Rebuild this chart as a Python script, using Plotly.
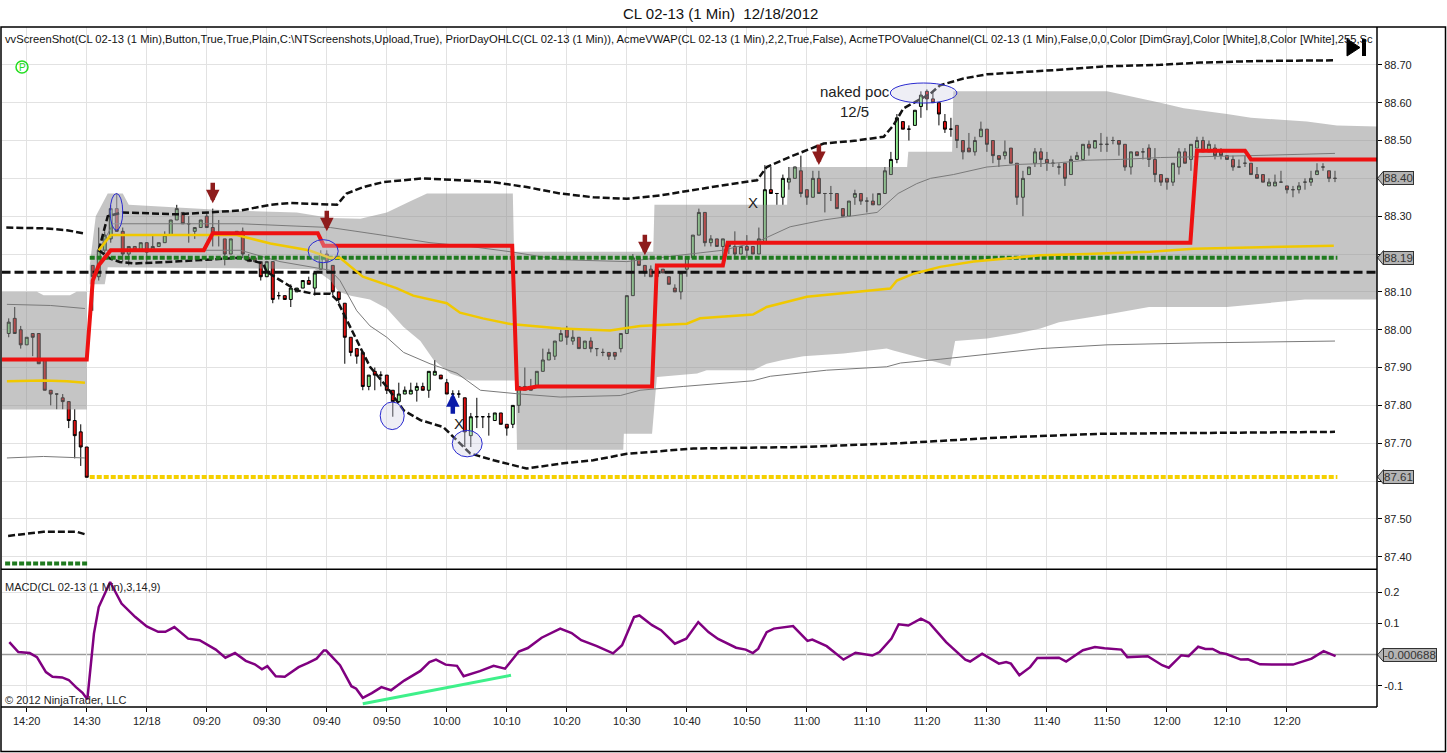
import plotly.graph_objects as go
from plotly.subplots import make_subplots

# bar index: 0 = 14:20 of the prior session, 20 = first labelled bar of 12/18
bar_x = list(range(-3, 219))
opens = [
    87.99, 88.03, 88.00, 87.96, 87.99, 87.99, 87.92, 87.84, 87.83, 87.82,
    87.81, 87.76, 87.73, 87.69, 88.17, 88.14, 88.21, 88.24, 88.32, 88.26,
    88.20, 88.22, 88.21, 88.23, 88.21, 88.22, 88.23, 88.25, 88.29, 88.31,
    88.28, 88.26, 88.27, 88.30, 88.27, 88.255, 88.24, 88.20, 88.25, 88.26,
    88.19, 88.19, 88.18, 88.14, 88.18, 88.09, 88.09, 88.08, 88.10, 88.11,
    88.13, 88.11, 88.16, 88.20, 88.17, 88.10, 88.07, 87.98, 87.95, 87.94,
    87.85, 87.89, 87.88, 87.88, 87.84, 87.81, 87.83, 87.83, 87.84, 87.85,
    87.84, 87.88, 87.88, 87.86, 87.83, 87.83, 87.82, 87.72, 87.77, 87.77,
    87.77, 87.76, 87.78, 87.75, 87.75, 87.80, 87.85, 87.85, 87.85, 87.89,
    87.92, 87.93, 87.97, 88.00, 87.97, 87.98, 87.95, 87.97, 87.95, 87.94,
    87.94, 87.94, 87.95, 87.99, 88.09, 88.19, 88.17, 88.16, 88.14, 88.16,
    88.14, 88.11, 88.10, 88.16, 88.19, 88.25, 88.31, 88.23, 88.24, 88.22,
    88.23, 88.22, 88.20, 88.22, 88.22, 88.20, 88.23, 88.37, 88.36, 88.35,
    88.39, 88.40, 88.42, 88.37, 88.35, 88.40, 88.36, 88.36, 88.36, 88.32,
    88.30, 88.35, 88.36, 88.34, 88.34, 88.33, 88.36, 88.41, 88.45, 88.55,
    88.53, 88.54, 88.59, 88.63, 88.61, 88.60, 88.55, 88.53, 88.54, 88.50,
    88.48, 88.47, 88.51, 88.53, 88.50, 88.46, 88.46, 88.48, 88.44, 88.35,
    88.41, 88.44, 88.47, 88.45, 88.44, 88.43, 88.44, 88.41, 88.45, 88.45,
    88.49, 88.48, 88.49, 88.49, 88.50, 88.50, 88.49, 88.43, 88.47, 88.47,
    88.48, 88.45, 88.41, 88.40, 88.39, 88.43, 88.47, 88.45, 88.48, 88.50,
    88.47, 88.48, 88.47, 88.46, 88.45, 88.43, 88.44, 88.44, 88.41, 88.41,
    88.38, 88.38, 88.39, 88.38, 88.37, 88.37, 88.39, 88.39, 88.41, 88.43,
    88.42, 88.40]
highs = [
    88.03, 88.06, 88.01, 87.98, 87.99, 87.99, 87.92, 87.84, 87.83, 87.83,
    87.81, 87.79, 87.75, 87.69, 88.17, 88.27, 88.26, 88.33, 88.36, 88.27,
    88.22, 88.22, 88.23, 88.23, 88.25, 88.23, 88.26, 88.29, 88.33, 88.31,
    88.30, 88.27, 88.29, 88.31, 88.32, 88.29, 88.24, 88.24, 88.26, 88.27,
    88.20, 88.19, 88.18, 88.18, 88.18, 88.10, 88.09, 88.12, 88.11, 88.13,
    88.14, 88.15, 88.21, 88.21, 88.17, 88.10, 88.07, 87.98, 87.95, 87.94,
    87.88, 87.90, 87.89, 87.88, 87.84, 87.86, 87.85, 87.86, 87.86, 87.86,
    87.89, 87.92, 87.88, 87.87, 87.84, 87.84, 87.82, 87.78, 87.82, 87.77,
    87.78, 87.78, 87.78, 87.75, 87.80, 87.85, 87.90, 87.87, 87.89, 87.95,
    87.95, 87.97, 88.00, 88.01, 88.00, 87.98, 87.97, 87.98, 87.95, 87.95,
    87.94, 87.94, 87.99, 88.09, 88.20, 88.19, 88.17, 88.17, 88.17, 88.16,
    88.14, 88.12, 88.15, 88.19, 88.25, 88.32, 88.31, 88.25, 88.24, 88.24,
    88.23, 88.26, 88.22, 88.25, 88.22, 88.27, 88.435, 88.43, 88.36, 88.41,
    88.43, 88.43, 88.46, 88.37, 88.42, 88.42, 88.36, 88.38, 88.36, 88.32,
    88.34, 88.37, 88.36, 88.35, 88.36, 88.36, 88.43, 88.47, 88.57, 88.55,
    88.54, 88.58, 88.63, 88.635, 88.63, 88.60, 88.57, 88.56, 88.54, 88.50,
    88.52, 88.51, 88.55, 88.53, 88.50, 88.46, 88.50, 88.48, 88.44, 88.42,
    88.43, 88.48, 88.48, 88.47, 88.45, 88.44, 88.44, 88.46, 88.47, 88.49,
    88.50, 88.50, 88.52, 88.51, 88.51, 88.50, 88.49, 88.47, 88.47, 88.48,
    88.49, 88.48, 88.41, 88.40, 88.44, 88.48, 88.48, 88.49, 88.51, 88.51,
    88.50, 88.49, 88.48, 88.46, 88.46, 88.45, 88.46, 88.44, 88.43, 88.41,
    88.40, 88.41, 88.42, 88.38, 88.38, 88.39, 88.40, 88.42, 88.44, 88.44,
    88.42, 88.42]
lows = [
    87.98, 87.99, 87.95, 87.96, 87.93, 87.91, 87.84, 87.80, 87.79, 87.79,
    87.74, 87.66, 87.64, 87.61, 88.05, 88.13, 88.20, 88.23, 88.26, 88.18,
    88.17, 88.21, 88.21, 88.175, 88.21, 88.22, 88.23, 88.25, 88.29, 88.28,
    88.23, 88.24, 88.27, 88.27, 88.22, 88.22, 88.17, 88.20, 88.25, 88.19,
    88.18, 88.18, 88.13, 88.14, 88.07, 88.08, 88.08, 88.06, 88.10, 88.11,
    88.12, 88.09, 88.16, 88.15, 88.09, 88.07, 87.91, 87.93, 87.91, 87.84,
    87.84, 87.84, 87.85, 87.83, 87.77, 87.81, 87.83, 87.83, 87.81, 87.84,
    87.82, 87.88, 87.87, 87.83, 87.78, 87.82, 87.69, 87.69, 87.74, 87.74,
    87.72, 87.76, 87.75, 87.72, 87.74, 87.78, 87.84, 87.84, 87.85, 87.89,
    87.92, 87.92, 87.97, 87.96, 87.96, 87.95, 87.95, 87.94, 87.93, 87.93,
    87.92, 87.92, 87.94, 87.99, 88.09, 88.17, 88.14, 88.14, 88.14, 88.15,
    88.12, 88.10, 88.08, 88.14, 88.19, 88.25, 88.22, 88.22, 88.22, 88.19,
    88.20, 88.19, 88.20, 88.19, 88.20, 88.20, 88.23, 88.36, 88.33, 88.33,
    88.37, 88.40, 88.35, 88.33, 88.35, 88.36, 88.31, 88.34, 88.32, 88.30,
    88.30, 88.33, 88.33, 88.31, 88.33, 88.33, 88.36, 88.41, 88.44, 88.53,
    88.50, 88.54, 88.56, 88.58, 88.60, 88.54, 88.52, 88.51, 88.48, 88.45,
    88.47, 88.46, 88.51, 88.47, 88.44, 88.43, 88.45, 88.44, 88.33, 88.30,
    88.41, 88.43, 88.43, 88.42, 88.43, 88.41, 88.38, 88.41, 88.45, 88.45,
    88.46, 88.48, 88.47, 88.47, 88.49, 88.46, 88.42, 88.41, 88.46, 88.45,
    88.43, 88.39, 88.38, 88.37, 88.38, 88.41, 88.44, 88.42, 88.48, 88.47,
    88.47, 88.45, 88.45, 88.45, 88.42, 88.43, 88.43, 88.41, 88.40, 88.39,
    88.38, 88.38, 88.39, 88.36, 88.35, 88.36, 88.37, 88.38, 88.41, 88.42,
    88.39, 88.39]
closes = [
    88.02, 87.99, 87.96, 87.98, 87.98, 87.91, 87.84, 87.83, 87.83, 87.81,
    87.76, 87.72, 87.69, 87.61, 88.14, 88.21, 88.25, 88.32, 88.26, 88.20,
    88.22, 88.21, 88.23, 88.205, 88.22, 88.23, 88.25, 88.29, 88.32, 88.28,
    88.28, 88.27, 88.29, 88.27, 88.255, 88.255, 88.20, 88.24, 88.26, 88.20,
    88.18, 88.18, 88.14, 88.18, 88.08, 88.09, 88.08, 88.11, 88.11, 88.13,
    88.12, 88.15, 88.20, 88.18, 88.10, 88.08, 87.98, 87.94, 87.93, 87.85,
    87.88, 87.88, 87.88, 87.84, 87.81, 87.83, 87.84, 87.84, 87.85, 87.84,
    87.89, 87.89, 87.87, 87.83, 87.83, 87.83, 87.73, 87.77, 87.77, 87.77,
    87.77, 87.78, 87.75, 87.74, 87.80, 87.85, 87.84, 87.84, 87.89, 87.92,
    87.94, 87.97, 87.99, 87.98, 87.98, 87.95, 87.97, 87.95, 87.95, 87.94,
    87.93, 87.93, 87.99, 88.09, 88.19, 88.17, 88.15, 88.14, 88.16, 88.15,
    88.12, 88.10, 88.15, 88.19, 88.25, 88.31, 88.23, 88.24, 88.22, 88.24,
    88.22, 88.20, 88.22, 88.21, 88.20, 88.24, 88.37, 88.36, 88.36, 88.40,
    88.40, 88.43, 88.36, 88.35, 88.40, 88.36, 88.36, 88.36, 88.32, 88.30,
    88.34, 88.36, 88.34, 88.34, 88.33, 88.36, 88.42, 88.45, 88.56, 88.53,
    88.53, 88.58, 88.62, 88.61, 88.60, 88.57, 88.53, 88.53, 88.50, 88.47,
    88.47, 88.50, 88.53, 88.49, 88.46, 88.45, 88.47, 88.44, 88.35, 88.40,
    88.43, 88.47, 88.45, 88.44, 88.44, 88.43, 88.40, 88.45, 88.46, 88.49,
    88.48, 88.50, 88.49, 88.49, 88.50, 88.49, 88.43, 88.47, 88.46, 88.47,
    88.45, 88.41, 88.39, 88.39, 88.44, 88.47, 88.44, 88.49, 88.50, 88.47,
    88.49, 88.46, 88.46, 88.45, 88.43, 88.43, 88.44, 88.41, 88.40, 88.39,
    88.39, 88.39, 88.39, 88.37, 88.37, 88.38, 88.39, 88.40, 88.42, 88.43,
    88.40, 88.40]

tick_vals = list(range(0, 211, 10))
tick_text = ['14:20', '14:30', '12/18', '09:20', '09:30', '09:40', '09:50', '10:00',
             '10:10', '10:20', '10:30', '10:40', '10:50', '11:00', '11:10', '11:20',
             '11:30', '11:40', '11:50', '12:00', '12:10', '12:20']

# prior day OHLC levels
prior_low = 87.382
prior_close = 87.611
level_green = 88.19
level_black = 88.152
last_price = 88.40
last_macd = -0.000688

# TPO value channel (gray band)
prev_band_x = [-4.2, 1.7, 2.8, 7.2, 8.3, 10, 10, -4.2]
prev_band_y = [88.10, 88.10, 88.091, 88.091, 88.10, 88.10, 87.789, 87.789]
band_up_x = [10.5, 11.5, 13.5, 16, 17, 33.9, 45, 50.6, 55.6, 60, 64, 66.7, 81, 81.2, 104.4,
             104.6, 126.7, 126.9, 146.7, 146.9, 154.2, 154.4, 180, 188.9, 192.8, 200,
             204, 213.3, 218.3, 225]
band_up_y = [88.17, 88.30, 88.36, 88.36, 88.33, 88.315, 88.31, 88.295, 88.293, 88.31,
             88.34, 88.36, 88.36, 88.206, 88.206, 88.33, 88.33, 88.43, 88.43, 88.47,
             88.47, 88.63, 88.63, 88.60, 88.585, 88.57, 88.56, 88.55, 88.54, 88.537]
band_lo_x = [10.5, 13, 13.5, 48, 50.6, 52, 54, 57.2, 60, 62.8, 65.6, 67.8, 70.6, 73.9, 81.5,
             81.7, 99.4, 99.5, 104.2, 105, 111.7, 113.3, 121.1, 123.3, 126, 129.4, 136.1,
             143.3, 144.4, 149.4, 153.9, 154.7, 160, 165, 168.9, 172, 180, 187, 200, 213,
             225]
band_lo_y = [88.12, 88.12, 88.165, 88.16, 88.13, 88.10, 88.09, 88.08, 88.056, 88.007,
             87.97, 87.92, 87.884, 87.866, 87.866, 87.683, 87.683, 87.725, 87.725, 87.875,
             87.884, 87.893, 87.893, 87.91, 87.92, 87.93, 87.937, 87.95, 87.945, 87.924,
             87.904, 87.97, 87.977, 87.99, 88.003, 88.02, 88.04, 88.06, 88.06, 88.08,
             88.08]

# VWAP and its bands, prior session
prev_vwap_x = [-3.3, 2.8, 6.7, 9.7]
prev_vwap_y = [87.864, 87.866, 87.864, 87.86]
prev_up1_x = [-3.3, 4, 9.7]
prev_up1_y = [88.067, 88.064, 88.056]
prev_lo1_x = [-3.3, 2.8, 9.7]
prev_lo1_y = [87.661, 87.665, 87.661]
prev_up2_x = [-3.4, 2.8, 6.7, 9.7]
prev_up2_y = [88.27, 88.268, 88.263, 88.254]
prev_lo2_x = [-3.1, 2.8, 8.3, 9.8]
prev_lo2_y = [87.455, 87.466, 87.466, 87.459]

# VWAP and its bands, 12/18
vwap_x = [12, 14, 20, 30, 35, 40.6, 47, 50.5, 52.2, 56, 61.6, 64.4, 70, 72.2, 76, 80.6, 89,
          97.2, 102.2, 110, 112.2, 121, 123.3, 130, 140, 143.9, 145, 147.8, 152.2, 157.8,
          163.3, 168.9, 176.7, 187.2, 194.4, 206.7, 217.8]
vwap_y = [88.21, 88.25, 88.25, 88.25, 88.25, 88.228, 88.21, 88.19, 88.19, 88.14, 88.11,
          88.09, 88.07, 88.045, 88.03, 88.015, 88.003, 87.998, 88.01, 88.016, 88.03, 88.04,
          88.06, 88.087, 88.103, 88.109, 88.13, 88.148, 88.166, 88.18, 88.188, 88.197,
          88.20, 88.206, 88.214, 88.219, 88.222]
up1_x = [12, 14.4, 35.6, 50.6, 59.2, 67.2, 73.9, 80.6, 88.9, 100, 110.5, 116, 121.7, 127.2,
         132.8, 138.3, 141.7, 145.2, 148.3, 150.6, 154.4, 160, 165.5, 171.1, 176.7, 182.2,
         188.9, 203.9, 218]
up1_y = [88.21, 88.28, 88.28, 88.27, 88.25, 88.23, 88.22, 88.206, 88.185, 88.18, 88.20,
         88.21, 88.232, 88.272, 88.29, 88.303, 88.31, 88.36, 88.386, 88.40, 88.41, 88.43,
         88.437, 88.44, 88.448, 88.45, 88.455, 88.46, 88.466]
lo1_x = [12, 15.5, 35.6, 42.2, 50.6, 52.2, 55, 57.2, 60, 62.8, 67.2, 71.7, 73.9, 75.6, 82.2,
         88.9, 98.9, 102.2, 109.4, 121, 123.9, 133.3, 143.3, 145.6, 152.2, 160, 168.9, 180,
         195, 218]
lo1_y = [88.21, 88.21, 88.21, 88.18, 88.157, 88.13, 88.05, 88.01, 87.98, 87.94, 87.91,
         87.885, 87.86, 87.84, 87.83, 87.822, 87.826, 87.84, 87.85, 87.865, 87.877, 87.893,
         87.902, 87.912, 87.922, 87.935, 87.95, 87.96, 87.965, 87.97]
up2_x = [12, 13.5, 16, 25, 35.6, 40.6, 43.9, 51.7, 53.3, 56.1, 59.4, 66, 72.2, 77.8, 83.3,
         88.9, 94.4, 100, 105.6, 111.1, 116.1, 121.7, 123.3, 127.2, 132.8, 138.3, 142.8,
         144.4, 146.1, 150.6, 152.2, 156.1, 160, 171.1, 180, 188.9, 195.6, 205, 218]
up2_y = [88.21, 88.30, 88.31, 88.305, 88.315, 88.33, 88.335, 88.33, 88.36, 88.377, 88.39,
         88.40, 88.395, 88.39, 88.377, 88.36, 88.35, 88.346, 88.355, 88.37, 88.382, 88.395,
         88.43, 88.457, 88.492, 88.50, 88.51, 88.54, 88.585, 88.624, 88.646, 88.664,
         88.675, 88.686, 88.696, 88.70, 88.706, 88.71, 88.712]
lo2_x = [12, 13.9, 15.5, 17.8, 23.3, 28.9, 35.6, 39.4, 40, 42.2, 45, 47.8, 50.6, 51.7, 53.3,
         55, 57.2, 60, 62.8, 65.6, 69.4, 72.8, 73.9, 77.8, 83.3, 88.9, 94.4, 100, 111.1,
         129, 145.5, 162, 179, 218]
lo2_y = [88.21, 88.188, 88.179, 88.175, 88.179, 88.184, 88.19, 88.175, 88.153, 88.131,
         88.104, 88.095, 88.095, 88.078, 88.025, 87.972, 87.902, 87.849, 87.787, 87.761,
         87.743, 87.69, 87.673, 87.655, 87.633, 87.646, 87.655, 87.672, 87.686, 87.69,
         87.70, 87.715, 87.725, 87.73]

# point of control (red step line)
poc_x = [-4.2, 10, 11, 12, 14, 29.5, 31, 48.5, 49.5, 80.9, 81.7, 83, 85, 104.2, 105, 116,
         116.8, 193.9, 195, 203, 204, 225]
poc_y = [87.921, 87.921, 88.13, 88.17, 88.21, 88.21, 88.255, 88.255, 88.222, 88.222,
         87.844, 87.844, 87.85, 87.85, 88.17, 88.17, 88.23, 88.23, 88.473, 88.473, 88.45,
         88.45]

# MACD(3,14,9)
macd_x = [-2.9, -1.4, 0.5, 1.7, 3.2, 4.3, 5.9, 7.0, 8.2, 9.3, 10.1, 11.2, 12.0, 13.9, 15.8,
          18.1, 20.0, 21.9, 23.1, 24.6, 26.9, 28.8, 31.5, 33.1, 34.7, 36.5, 38.0, 39.2,
          40.1, 41.5, 43.0, 45.3, 46.8, 48.3, 49.5, 49.9, 52.2, 54.1, 54.9, 56.0, 57.5,
          59.1, 60.7, 62.9, 65.6, 67.1, 68.2, 69.8, 71.7, 72.8, 75.5, 77.8, 79.7, 82.0,
          83.5, 85.8, 88.9, 90.8, 92.4, 95.0, 97.7, 99.2, 101.2, 102.1, 104.2, 105.7,
          108.0, 109.9, 111.9, 113.6, 115.2, 118.2, 119.8, 121.0, 121.9, 123.3, 124.5,
          126.1, 127.7, 130.1, 130.9, 133.3, 136.1, 138.1, 140.9, 142.1, 144.1, 145.3,
          146.9, 149.0, 150.4, 153.2, 156.4, 157.2, 159.2, 162.0, 163.2, 164.0, 165.4,
          167.2, 168.4, 172.0, 173.2, 176.0, 178.0, 179.6, 182.4, 183.4, 186.8, 189.2,
          190.3, 192.4, 193.6, 195.2, 196.4, 197.6, 198.8, 199.9, 202.3, 203.5, 205.5,
          209.0, 211.0, 214.1, 216.1, 218.1]
macd_y = [0.040, 0.008, 0.005, -0.008, -0.056, -0.071, -0.073, -0.081, -0.104, -0.122,
          -0.143, 0.067, 0.152, 0.232, 0.163, 0.120, 0.090, 0.073, 0.073, 0.088, 0.051,
          0.046, 0.016, -0.010, 0.005, -0.020, -0.031, -0.047, -0.037, -0.069, -0.071,
          -0.040, -0.027, -0.013, 0.013, 0.013, -0.034, -0.101, -0.109, -0.138, -0.123,
          -0.104, -0.114, -0.083, -0.052, -0.024, -0.016, -0.032, -0.036, -0.069, -0.053,
          -0.036, -0.045, 0.010, 0.021, 0.054, 0.083, 0.069, 0.046, 0.027, 0.004, 0.030,
          0.120, 0.125, 0.094, 0.078, 0.035, 0.051, 0.104, 0.072, 0.050, 0.022, 0.016,
          0.005, 0.019, 0.072, 0.083, 0.088, 0.091, 0.044, 0.048, 0.027, -0.016, 0.006,
          -0.003, 0.008, 0.051, 0.097, 0.093, 0.115, 0.101, 0.040, -0.016, -0.022, 0.003,
          -0.029, -0.024, -0.029, -0.066, -0.040, -0.011, -0.010, -0.022, 0.014, 0.024,
          0.020, 0.016, -0.008, -0.005, -0.034, -0.042, -0.002, -0.005, 0.025, 0.018,
          0.018, 0.006, 0.002, -0.016, -0.015, -0.031, -0.032, -0.032, -0.013, 0.011,
          -0.005]
div_x = [56.0, 80.7]
div_y = [-0.157, -0.066]

# drawings on the chart
ellipses = [(13.9, 16.0, 88.263, 88.36), (46.9, 51.9, 88.177, 88.238),
            (58.9, 62.9, 87.736, 87.809), (70.9, 75.9, 87.664, 87.734),
            (143.9, 155.0, 88.599, 88.652)]
down_arrows = [(31, 88.334), (50, 88.26), (103, 88.197), (132, 88.435)]
up_arrows = [(71, 87.832)]
x_marks = [(72, 87.753), (121, 88.336)]

FONT = 'Liberation Sans, Arial, sans-serif'
W, H = 1447, 753
PL, PR, PT, PB = 2, 70, 27, 46
PW, PH = W - PL - PR, H - PT - PB


def px(x):
    return (x - PL) / PW


def py(y):
    return 1 - (y - PT) / PH


macd_frac = (706.7 - 569.3) / PH

fig = make_subplots(rows=2, cols=1, shared_xaxes=True, vertical_spacing=0,
                    row_heights=[1 - macd_frac, macd_frac])


def line(x, y, color, width, dash='solid', row=1):
    fig.add_trace(go.Scatter(x=x, y=y, mode='lines', showlegend=False, hoverinfo='skip',
                             line=dict(color=color, width=width, dash=dash)), row=row, col=1)


band_fill = 'rgba(140,140,140,0.5)'
fig.add_trace(go.Scatter(x=prev_band_x, y=prev_band_y, fill='toself', mode='none',
                         fillcolor=band_fill, showlegend=False, hoverinfo='skip'), row=1, col=1)
fig.add_trace(go.Scatter(x=band_up_x + band_lo_x[::-1], y=band_up_y + band_lo_y[::-1],
                         fill='toself', mode='none', fillcolor=band_fill,
                         showlegend=False, hoverinfo='skip'), row=1, col=1)

thin = '#7a7a7a'
for xs, ys in [(prev_up1_x, prev_up1_y), (prev_lo1_x, prev_lo1_y), (up1_x, up1_y), (lo1_x, lo1_y)]:
    line(xs, ys, thin, 1)
for xs, ys in [(prev_up2_x, prev_up2_y), (prev_lo2_x, prev_lo2_y), (up2_x, up2_y), (lo2_x, lo2_y)]:
    line(xs, ys, '#111111', 2.5, '7px,3px')

line([-3.6, 10.3], [prior_low, prior_low], '#1f7a1f', 4, '5px,2px')
line([10.5, 218.4], [level_green, level_green], '#1f7a1f', 4, '5px,2px')
line([10.5, 218.4], [prior_close, prior_close], '#f5d000', 4, '5px,2px')
line([-4.2, 225], [level_black, level_black], '#111111', 3, '9px,4px')

line(prev_vwap_x, prev_vwap_y, '#f0c800', 2.5)
line(vwap_x, vwap_y, '#f0c800', 2.5)
line(poc_x, poc_y, '#ee1111', 4)

fig.add_trace(go.Candlestick(
    x=bar_x, open=opens, high=highs, low=lows, close=closes, showlegend=False,
    increasing=dict(fillcolor='#90ee90', line=dict(color='#000000', width=1)),
    decreasing=dict(fillcolor='#e01010', line=dict(color='#000000', width=1)),
    hoverinfo='skip'), row=1, col=1)

line(macd_x, macd_y, '#800080', 2.5, row=2)
line(div_x, div_y, '#3ef08a', 3, row=2)

shapes = []
annotations = []

# zero line of the MACD panel
shapes.append(dict(type='line', xref='paper', yref='y2', x0=0, x1=1, y0=0, y1=0,
                   line=dict(color='#9a9a9a', width=1.5), layer='below'))

for x0, x1, y0, y1 in ellipses:
    shapes.append(dict(type='circle', xref='x', yref='y', x0=x0, x1=x1, y0=y0, y1=y1,
                       line=dict(color='#2a2ad0', width=1),
                       fillcolor='rgba(205,205,225,0.35)'))

for bx, tip in down_arrows:
    annotations.append(dict(x=bx, y=tip, xref='x', yref='y', text='', showarrow=True,
                            ax=0, ay=-22, arrowhead=2, arrowsize=0.6, arrowwidth=4.5,
                            arrowcolor='#8e1c1c'))
for bx, tip in up_arrows:
    annotations.append(dict(x=bx, y=tip, xref='x', yref='y', text='', showarrow=True,
                            ax=0, ay=22, arrowhead=2, arrowsize=0.6, arrowwidth=4.5,
                            arrowcolor='#0a1aa8'))
for bx, by in x_marks:
    annotations.append(dict(x=bx, y=by, xref='x', yref='y', text='X', showarrow=False,
                            xanchor='center', yanchor='middle',
                            font=dict(family=FONT, size=15, color='#222222')))

annotations.append(dict(x=138, y=88.602, xref='x', yref='y', text='naked poc<br>12/5',
                        showarrow=False, align='center', xanchor='center', yanchor='middle',
                        font=dict(family=FONT, size=15, color='#222222')))

# price tags on the right axis
for val, yref, h in [(last_price, 'y', 0.019), (level_green, 'y', 0.019),
                     (prior_close, 'y', 0.019), (last_macd, 'y2', 0.022)]:
    label = f'{val:.2f}' if yref == 'y' else f'{val:.6f}'
    fill = '#b4b4b4'
    shapes.append(dict(type='path', xref='paper', yref=yref,
                       path=f'M {px(1377.5)},{val} L {px(1383.5)},{val + h} '
                            f'L {px(1383.5)},{val - h} Z',
                       fillcolor=fill, line=dict(color='#333333', width=1)))
    annotations.append(dict(x=px(1383), y=val, xref='paper', yref=yref, text=label,
                            showarrow=False, xanchor='left', yanchor='middle',
                            bgcolor=fill, bordercolor='#333333', borderwidth=1, borderpad=0,
                            font=dict(family=FONT, size=11.5, color='#333333')))

# frames
shapes.append(dict(type='rect', xref='paper', yref='paper', x0=px(1), x1=px(1445.5),
                   y0=py(751.5), y1=py(27), line=dict(color='#000000', width=1.5)))
shapes.append(dict(type='line', xref='paper', yref='paper', x0=px(1), x1=px(1377),
                   y0=py(569.3), y1=py(569.3), line=dict(color='#000000', width=1.5)))
shapes.append(dict(type='line', xref='paper', yref='paper', x0=px(1), x1=px(1377),
                   y0=0, y1=0, line=dict(color='#000000', width=1.5)))
shapes.append(dict(type='line', xref='paper', yref='paper', x0=1, x1=1,
                   y0=0, y1=1, line=dict(color='#000000', width=1.5)))

# screenshot button and P marker
shapes.append(dict(type='path', xref='paper', yref='paper',
                   path=f'M {px(1347)},{py(39)} L {px(1360)},{py(47.5)} L {px(1347)},{py(56)} Z',
                   fillcolor='#000000', line=dict(color='#000000', width=1)))
shapes.append(dict(type='rect', xref='paper', yref='paper', x0=px(1362), x1=px(1366),
                   y0=py(56), y1=py(39), fillcolor='#000000', line=dict(width=0)))
shapes.append(dict(type='circle', xref='paper', yref='paper', x0=px(16), x1=px(28),
                   y0=py(73), y1=py(61), line=dict(color='#22dd22', width=1.5)))
annotations.append(dict(x=px(22.3), y=py(67.3), xref='paper', yref='paper', text='P',
                        showarrow=False, xanchor='center', yanchor='middle',
                        font=dict(family=FONT, size=10, color='#22dd22')))

annotations.append(dict(x=px(720), y=py(13), xref='paper', yref='paper',
                        text='CL 02-13 (1 Min)\u00a0 12/18/2012', showarrow=False,
                        xanchor='center', yanchor='middle',
                        font=dict(family=FONT, size=15, color='#111111')))
annotations.append(dict(
    x=px(3), y=py(38.5), xref='paper', yref='paper', xanchor='left', yanchor='middle',
    showarrow=False,
    text='vvScreenShot(CL 02-13 (1 Min),Button,True,True,Plain,C:\\NTScreenshots,Upload,True), '
         'PriorDayOHLC(CL 02-13 (1 Min)), AcmeVWAP(CL 02-13 (1 Min),2,2,True,False), '
         'AcmeTPOValueChannel(CL 02-13 (1 Min),False,0,0,Color [DimGray],Color [White],8,'
         'Color [White],255,Sc',
    font=dict(family=FONT, size=11.2, color='#111111')))
annotations.append(dict(x=px(3), y=py(587), xref='paper', yref='paper', xanchor='left',
                        yanchor='middle', showarrow=False,
                        text='MACD(CL 02-13 (1 Min),3,14,9)',
                        font=dict(family=FONT, size=11, color='#222222')))
annotations.append(dict(x=px(3), y=py(700), xref='paper', yref='paper', xanchor='left',
                        yanchor='middle', showarrow=False,
                        text='\u00a9 2012 NinjaTrader, LLC',
                        font=dict(family=FONT, size=11, color='#222222')))

grid = '#e2e2e2'
price_ticks = [round(87.4 + 0.1 * k, 2) for k in range(14)]
# labels hidden behind the price tags are left blank
covered = [round(last_price, 1), round(level_green, 1), round(prior_close, 1)]
price_text = ['' if v in covered else f'{v:.2f}' for v in price_ticks]

fig.update_xaxes(range=[-4.12, 225], tickvals=tick_vals, ticktext=tick_text, showgrid=True,
                 gridcolor=grid, zeroline=False, showline=False, rangeslider_visible=False)
fig.update_xaxes(showticklabels=False, ticks='', row=1, col=1)
fig.update_xaxes(ticks='outside', ticklen=4, tickcolor='#000000',
                 tickfont=dict(family=FONT, size=11, color='#222222'), row=2, col=1)
fig.update_yaxes(side='right', range=[87.366, 88.80], tickvals=price_ticks,
                 ticktext=price_text, showgrid=True, gridcolor=grid,
                 zeroline=False, ticks='outside', ticklen=4, tickcolor='#000000',
                 tickfont=dict(family=FONT, size=11, color='#222222'), row=1, col=1)
fig.update_yaxes(side='right', range=[-0.1674, 0.2716], tickvals=[-0.1, 0.1, 0.2],
                 ticktext=['-0.1', '0.1', '0.2'], showgrid=True, gridcolor=grid,
                 zeroline=False, ticks='outside', ticklen=4, tickcolor='#000000',
                 tickfont=dict(family=FONT, size=11, color='#222222'), row=2, col=1)

fig.update_layout(
    width=W, height=H, margin=dict(l=PL, r=PR, t=PT, b=PB),
    paper_bgcolor='#ffffff', plot_bgcolor='#ffffff',
    font=dict(family=FONT), shapes=shapes, annotations=annotations, showlegend=False,
)

fig.write_html('out.html', config={'displayModeBar': False},
               post_script="document.body.style.margin='0';")
